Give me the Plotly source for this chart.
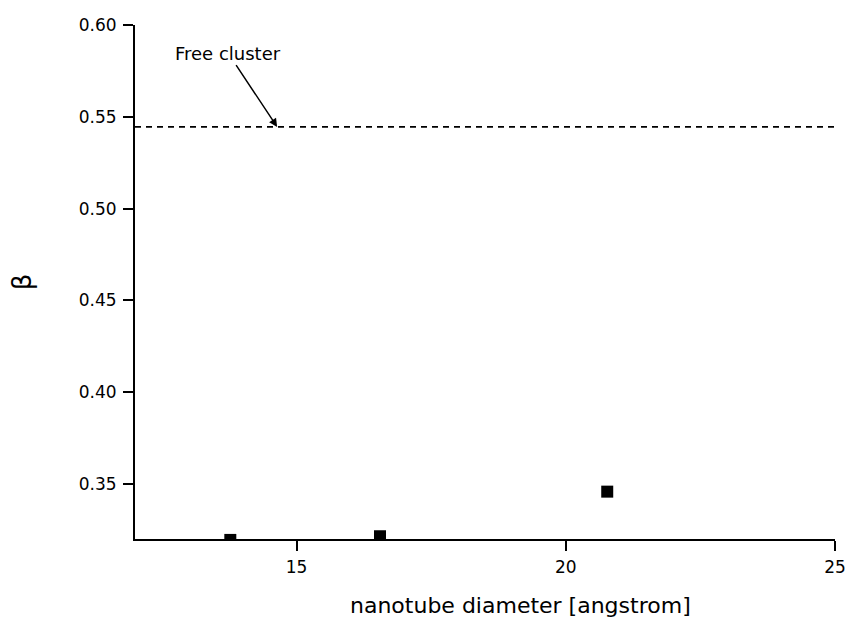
import plotly.graph_objects as go

# Data
diameter = [13.77, 16.55, 20.77]
beta = [0.3195, 0.3215, 0.3458]
free_cluster_beta = 0.5445
x_range = [12, 25]
y_range = [0.32, 0.60]
x_ticks = [15, 20, 25]
y_ticks = [0.35, 0.40, 0.45, 0.50, 0.55, 0.60]
y_ticktext = ["0.35", "0.40", "0.45", "0.50", "0.55", "0.60"]
x_title = "nanotube diameter [angstrom]"
y_title = "β"

FONT = "DejaVu Sans"

fig = go.Figure()

fig.add_trace(go.Scatter(
    x=x_range, y=[free_cluster_beta, free_cluster_beta],
    mode="lines",
    line=dict(color="black", width=1.7, dash="6px,5px"),
    showlegend=False, hoverinfo="skip", cliponaxis=False,
))

fig.add_trace(go.Scatter(
    x=diameter, y=beta, mode="markers",
    marker=dict(symbol="square", size=12, color="black"),
    showlegend=False, cliponaxis=True,
))

fig.add_annotation(
    x=14.64, y=free_cluster_beta, xref="x", yref="y",
    ax=13.73, ay=0.5847, axref="x", ayref="y",
    text="Free cluster", showarrow=True,
    arrowhead=2, arrowsize=1.1, arrowwidth=1.5, arrowcolor="black",
    font=dict(family=FONT, size=18, color="black"),
)

# x-axis title (placed slightly right of centre, as in the reference)
fig.add_annotation(
    x=0.55, y=-0.13, xref="paper", yref="paper",
    xanchor="center", yanchor="middle",
    text=x_title, showarrow=False,
    font=dict(family=FONT, size=22, color="black"),
)

axis_common = dict(
    showline=True, linecolor="black", linewidth=2,
    ticks="outside", ticklen=10, tickwidth=1.5, tickcolor="black",
    showgrid=False, zeroline=False, mirror=False, automargin=False,
    tickfont=dict(family=FONT, size=17, color="black"),
)

fig.update_xaxes(
    range=x_range, tickvals=x_ticks, ticktext=[str(t) for t in x_ticks],
    ticklabelstandoff=2,
    **axis_common,
)
fig.update_yaxes(
    range=y_range, tickvals=y_ticks, ticktext=y_ticktext,
    title=dict(text=y_title, font=dict(family=FONT, size=26, color="black"), standoff=40),
    ticklabelstandoff=3,
    **axis_common,
)

fig.update_layout(
    width=846, height=619,
    margin=dict(l=135, r=11, t=25, b=80),
    paper_bgcolor="white", plot_bgcolor="white",
)

fig.write_html("out.html")
